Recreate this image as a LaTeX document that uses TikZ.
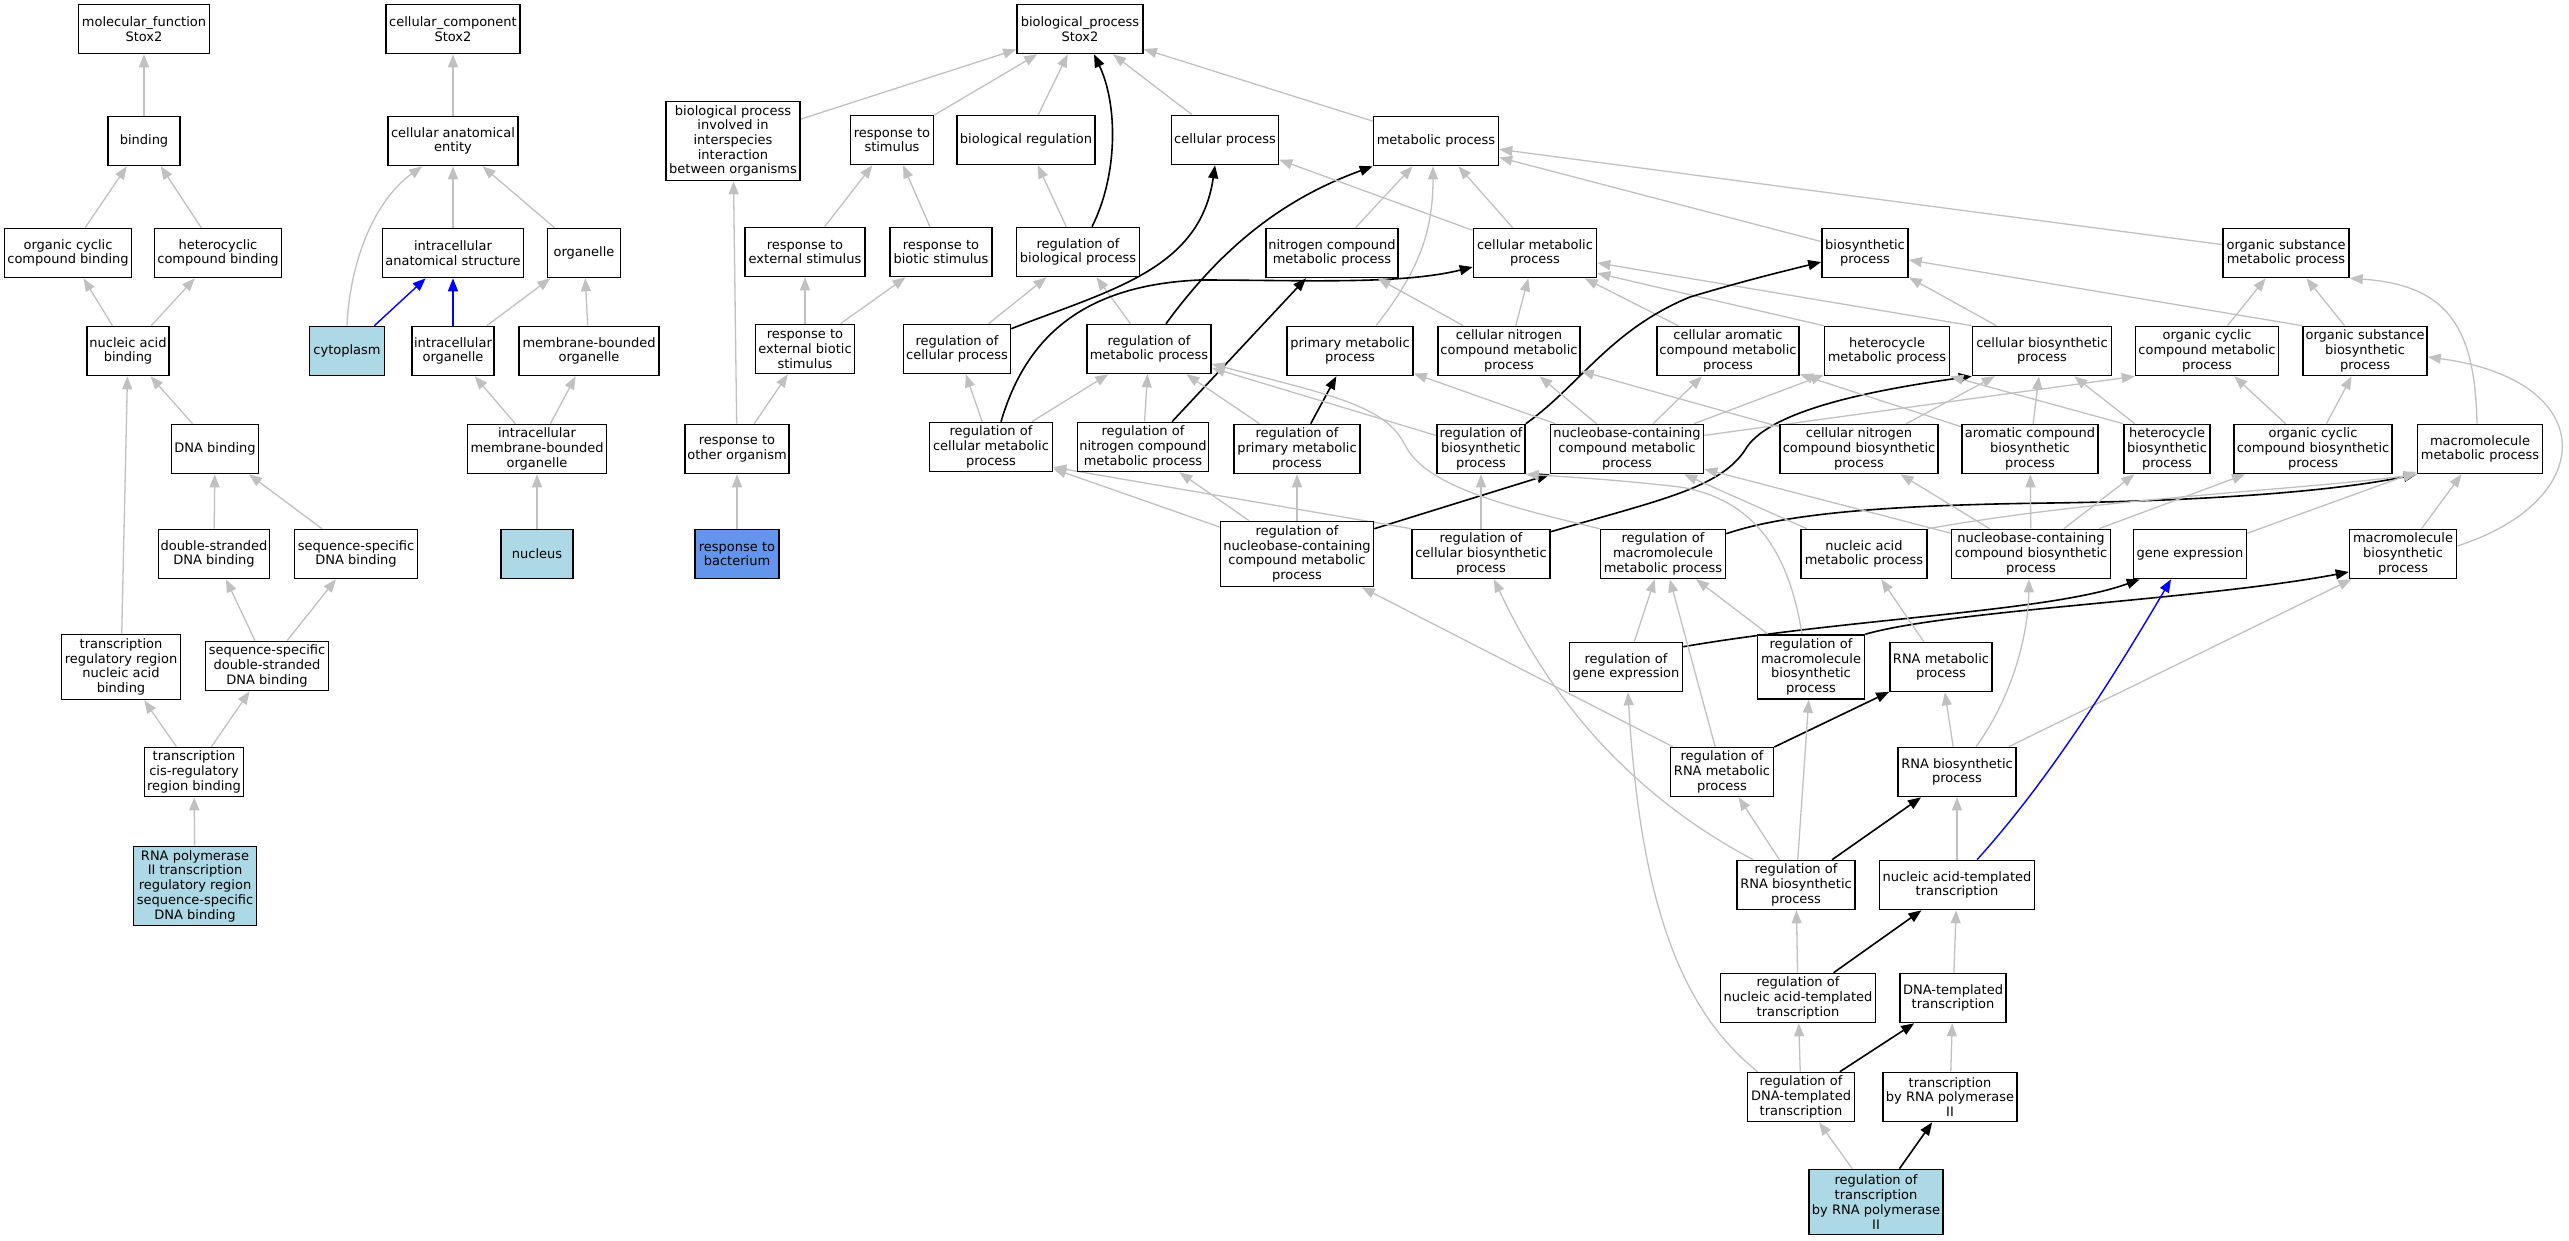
\documentclass[tikz,border=0pt]{standalone}
\usepackage{fontspec}
\setmainfont{DejaVu Sans}
\usetikzlibrary{arrows.meta}
\definecolor{edgegray}{RGB}{192,192,192}
\definecolor{lblue}{RGB}{173,216,230}
\definecolor{cblue}{RGB}{100,149,237}
\pgfdeclarelayer{bg}
\pgfsetlayers{bg,main}
\begin{document}
\begin{tikzpicture}[x=1pt,y=-1pt,
 gobox/.style={draw, line width=1.6pt, fill=white, inner xsep=2pt, inner ysep=1pt, align=center, minimum height=49pt, font=\fontsize{13pt}{14.7pt}\selectfont},
 isa/.style={draw=edgegray, line width=1.3pt, -{Triangle[length=13pt,width=10pt]}},
 regl/.style={draw=black, line width=1.6pt, -{Triangle[length=13pt,width=10pt]}},
 partof/.style={draw=blue, line width=1.4pt, -{Triangle[length=13pt,width=10pt]}}]
\useasboundingbox (0,0) rectangle (2569,1240);
% Row 1
\node[gobox,minimum width=131pt] (mf) at (144,29) {molecular\_function\\Stox2};
\node[gobox,minimum width=134pt] (cc) at (453,29) {cellular\_component\\Stox2};
\node[gobox,minimum width=126pt] (bp) at (1080,29) {biological\_process\\Stox2};
% Row 2
\node[gobox,minimum width=72pt] (bind) at (144,141) {binding};
\node[gobox,minimum width=130pt] (cae) at (453,141) {cellular anatomical\\entity};
\node[gobox,minimum width=134pt,minimum height=79pt] (bpii) at (733,141) {biological process\\involved in\\interspecies\\interaction\\between organisms};
\node[gobox,minimum width=83pt] (rstim) at (892,140) {response to\\stimulus};
\node[gobox,minimum width=138pt] (breg) at (1026,140) {biological regulation};
\node[gobox,minimum width=107pt] (cproc) at (1225,140) {cellular process};
\node[gobox,minimum width=125pt] (mproc) at (1436,141) {metabolic process};
% Row 3
\node[gobox,minimum width=127pt] (occb) at (68,253) {organic cyclic\\compound binding};
\node[gobox,minimum width=127pt] (hcb) at (218,253) {heterocyclic\\compound binding};
\node[gobox,minimum width=141pt] (ias) at (453,253) {intracellular\\anatomical structure};
\node[gobox,minimum width=73pt] (orgl) at (584,253) {organelle};
\node[gobox,minimum width=120pt] (rext) at (805,252) {response to\\external stimulus};
\node[gobox,minimum width=102pt] (rbiot) at (941,252) {response to\\biotic stimulus};
\node[gobox,minimum width=123pt] (rbp) at (1078,252) {regulation of\\biological process};
\node[gobox,minimum width=132pt] (ncmp) at (1332,253) {nitrogen compound\\metabolic process};
\node[gobox,minimum width=123pt] (cmp) at (1535,253) {cellular metabolic\\process};
\node[gobox,minimum width=86pt] (biosyn) at (1865,253) {biosynthetic\\process};
\node[gobox,minimum width=126pt] (osmp) at (2286,253) {organic substance\\metabolic process};
% Row 4
\node[gobox,minimum width=82pt] (nab) at (128,351) {nucleic acid\\binding};
\node[gobox,minimum width=75pt,fill=lblue] (cyto) at (347,351) {cytoplasm};
\node[gobox,minimum width=82pt] (iorg) at (453,351) {intracellular\\organelle};
\node[gobox,minimum width=140pt] (mbo) at (589,351) {membrane-bounded\\organelle};
\node[gobox,minimum width=99pt] (rebs) at (805,349) {response to\\external biotic\\stimulus};
\node[gobox,minimum width=107pt] (rcp) at (957,349) {regulation of\\cellular process};
\node[gobox,minimum width=124pt] (rmp) at (1149,349) {regulation of\\metabolic process};
\node[gobox,minimum width=126pt] (pmp) at (1350,351) {primary metabolic\\process};
\node[gobox,minimum width=142pt] (cncmp) at (1509,351) {cellular nitrogen\\compound metabolic\\process};
\node[gobox,minimum width=142pt] (cacmp) at (1728,351) {cellular aromatic\\compound metabolic\\process};
\node[gobox,minimum width=125pt] (hmp) at (1887,351) {heterocycle\\metabolic process};
\node[gobox,minimum width=139pt] (cbp) at (2042,351) {cellular biosynthetic\\process};
\node[gobox,minimum width=143pt] (occmp) at (2207,351) {organic cyclic\\compound metabolic\\process};
\node[gobox,minimum width=124pt] (osbp) at (2365,351) {organic substance\\biosynthetic\\process};
% Row 5
\node[gobox,minimum width=87pt] (dnab) at (215,449) {DNA binding};
\node[gobox,minimum width=139pt] (imbo) at (537,449) {intracellular\\membrane-bounded\\organelle};
\node[gobox,minimum width=104pt] (rtoo) at (737,449) {response to\\other organism};
\node[gobox,minimum width=123pt] (rcmp) at (991,447) {regulation of\\cellular metabolic\\process};
\node[gobox,minimum width=131pt] (rncmp) at (1143,447) {regulation of\\nitrogen compound\\metabolic process};
\node[gobox,minimum width=126pt] (rpmp) at (1297,449) {regulation of\\primary metabolic\\process};
\node[gobox,minimum width=88pt] (rbsp) at (1481,449) {regulation of\\biosynthetic\\process};
\node[gobox,minimum width=153pt] (nucmet) at (1627,449) {nucleobase-containing\\compound metabolic\\process};
\node[gobox,minimum width=158pt] (cncbp) at (1859,449) {cellular nitrogen\\compound biosynthetic\\process};
\node[gobox,minimum width=136pt] (acbp) at (2030,449) {aromatic compound\\biosynthetic\\process};
\node[gobox,minimum width=86pt] (hbp) at (2167,449) {heterocycle\\biosynthetic\\process};
\node[gobox,minimum width=158pt] (occbp) at (2313,449) {organic cyclic\\compound biosynthetic\\process};
\node[gobox,minimum width=125pt] (mmp) at (2480,449) {macromolecule\\metabolic process};
% Row 6
\node[gobox,minimum width=111pt] (dsdb) at (214,554) {double-stranded\\DNA binding};
\node[gobox,minimum width=123pt] (ssdb) at (356,554) {sequence-specific\\DNA binding};
\node[gobox,minimum width=72pt,fill=lblue] (nucl) at (537,554) {nucleus};
\node[gobox,minimum width=84pt,fill=cblue] (rbact) at (737,554) {response to\\bacterium};
\node[gobox,minimum width=153pt,minimum height=65pt] (rnuc) at (1297,554) {regulation of\\nucleobase-containing\\compound metabolic\\process};
\node[gobox,minimum width=138pt] (rcbp) at (1481,554) {regulation of\\cellular biosynthetic\\process};
\node[gobox,minimum width=125pt] (rmmp) at (1663,554) {regulation of\\macromolecule\\metabolic process};
\node[gobox,minimum width=126pt] (namp) at (1864,554) {nucleic acid\\metabolic process};
\node[gobox,minimum width=159pt] (nucbio) at (2031,554) {nucleobase-containing\\compound biosynthetic\\process};
\node[gobox,minimum width=113pt] (gexp) at (2190,554) {gene expression};
\node[gobox,minimum width=107pt] (mbp) at (2403,554) {macromolecule\\biosynthetic\\process};
% Row 7
\node[gobox,minimum width=119pt,minimum height=65pt] (trrnab) at (121,667) {transcription\\regulatory region\\nucleic acid\\binding};
\node[gobox,minimum width=123pt] (ssdsdb) at (267,666) {sequence-specific\\double-stranded\\DNA binding};
\node[gobox,minimum width=113pt] (rgexp) at (1626,667) {regulation of\\gene expression};
\node[gobox,minimum width=107pt,minimum height=64pt] (rmbp) at (1811,667) {regulation of\\macromolecule\\biosynthetic\\process};
\node[gobox,minimum width=102pt] (rnamet) at (1941,667) {RNA metabolic\\process};
% Row 8
\node[gobox,minimum width=99pt] (tcrb) at (194,772) {transcription\\cis-regulatory\\region binding};
\node[gobox,minimum width=103pt] (rrnamet) at (1722,772) {regulation of\\RNA metabolic\\process};
\node[gobox,minimum width=118pt] (rnabio) at (1957,772) {RNA biosynthetic\\process};
% Row 9
\node[gobox,minimum width=123pt,minimum height=79pt,fill=lblue] (rnapol) at (195,886) {RNA polymerase\\II transcription\\regulatory region\\sequence-specific\\DNA binding};
\node[gobox,minimum width=118pt] (rrnabio) at (1796,885) {regulation of\\RNA biosynthetic\\process};
\node[gobox,minimum width=155pt] (natt) at (1957,885) {nucleic acid-templated\\transcription};
% Row 10
\node[gobox,minimum width=155pt] (rnatt) at (1798,998) {regulation of\\nucleic acid-templated\\transcription};
\node[gobox,minimum width=106pt] (dtt) at (1953,998) {DNA-templated\\transcription};
% Row 11
\node[gobox,minimum width=107pt] (rdtt) at (1801,1097) {regulation of\\DNA-templated\\transcription};
\node[gobox,minimum width=134pt] (trp2) at (1950,1097) {transcription\\by RNA polymerase\\II};
% Row 12
\node[gobox,minimum width=134pt,minimum height=65pt,fill=lblue] (rtrp2) at (1876,1202) {regulation of\\transcription\\by RNA polymerase\\II};

\begin{pgfonlayer}{bg}
% molecular function
\draw[isa] (bind) -- (mf);
\draw[isa] (occb) -- (bind);
\draw[isa] (hcb) -- (bind);
\draw[isa] (nab) -- (occb);
\draw[isa] (nab) -- (hcb);
\draw[isa] (dnab) -- (nab);
\draw[isa] (trrnab) -- (nab);
\draw[isa] (dsdb) -- (dnab);
\draw[isa] (ssdb) -- (dnab);
\draw[isa] (ssdsdb) -- (dsdb);
\draw[isa] (ssdsdb) -- (ssdb);
\draw[isa] (tcrb) -- (trrnab);
\draw[isa] (tcrb) -- (ssdsdb);
\draw[isa] (rnapol) -- (tcrb);
% cellular component
\draw[isa] (cae) -- (cc);
\draw[isa] (ias) -- (cae);
\draw[isa] (orgl) -- (cae);
\draw[isa] (cyto.north) .. controls (350,260) and (375,200) .. ([xshift=35pt]cae.south west);
\draw[partof] (cyto) -- (ias);
\draw[partof] (iorg) -- (ias);
\draw[isa] (iorg) -- (orgl);
\draw[isa] (mbo) -- (orgl);
\draw[isa] (imbo) -- (iorg);
\draw[isa] (imbo) -- (mbo);
\draw[isa] (nucl) -- (imbo);
% biological process
\draw[isa] (bpii) -- (bp);
\draw[isa] (rstim) -- (bp);
\draw[isa] (breg) -- (bp);
\draw[regl] ([xshift=14pt]rbp.north) .. controls (1118,175) and (1118,105) .. ([xshift=14pt]bp.south);
\draw[isa] (cproc) -- (bp);
\draw[isa] (mproc) -- (bp);
\draw[isa] (rext) -- (rstim);
\draw[isa] (rbiot) -- (rstim);
\draw[isa] (rbp) -- (breg);
\draw[isa] (rebs) -- (rext);
\draw[isa] (rebs) -- (rbiot);
\draw[isa] (rtoo) -- (bpii);
\draw[isa] (rtoo) -- (rebs);
\draw[isa] (rbact) -- (rtoo);
\draw[isa] (rcp) -- (rbp);
\draw[isa] (rmp) -- (rbp);
\draw[regl] ([yshift=-5pt]rcp.north east) .. controls (1110,290) and (1200,270) .. ([xshift=-10pt]cproc.south);
\draw[regl] ([xshift=17pt]rmp.north) .. controls (1220,250) and (1280,200) .. (mproc.south west);
\draw[isa] (cmp) -- (cproc);
\draw[isa] (ncmp) -- (mproc);
\draw[isa] ([xshift=26pt]pmp.north) .. controls (1420,270) and (1433,230) .. ([xshift=-3pt]mproc.south);
\draw[isa] (cmp) -- (mproc);
\draw[isa] (biosyn) -- (mproc);
\draw[isa] (osmp) -- (mproc);
\draw[isa] (rcmp) -- (rcp);
\draw[isa] (rcmp) -- (rmp);
\draw[regl] ([xshift=10pt]rcmp.north) .. controls (1025,340) and (1080,285) .. (1200,280) .. controls (1300,280) and (1400,285) .. ([yshift=-14pt]cmp.west);
\draw[isa] (rncmp) -- (rmp);
\draw[regl] ([xshift=29pt]rncmp.north) -- ([xshift=-26pt]ncmp.south);
\draw[isa] (rpmp) -- (rmp);
\draw[regl] (rpmp) -- (pmp);
\draw[isa] (cncmp) -- (ncmp);
\draw[isa] (cncmp) -- (cmp);
\draw[isa] (cacmp) -- (cmp);
\draw[isa] (hmp.north west) -- (cmp.-18);
\draw[isa] (cbp.north west) -- (cmp.-9);
\draw[isa] (cbp) -- (biosyn);
\draw[regl] (rbsp.north east) .. controls (1580,385) and (1610,330) .. (1690,297) .. controls (1740,282) and (1780,272) .. ([yshift=-9pt]biosyn.west);
\draw[isa] (rbsp) -- (rmp);
\draw[isa] (occmp) -- (osmp);
\draw[isa] (osbp) -- (osmp);
\draw[isa] (osbp.north west) -- (biosyn.-9);
\draw[isa] ([xshift=-3pt]mmp.north) .. controls (2475,330) and (2450,285) .. (osmp.south east);
\draw[isa] (rnuc) -- (rcmp);
\draw[isa] (rnuc) -- (rncmp);
\draw[isa] (rnuc) -- (rpmp);
\draw[regl] ([yshift=-8pt]rnuc.north east) -- (nucmet.south west);
\draw[isa] (rcbp) -- (rbsp);
\draw[isa] (rcbp.north west) -- (rcmp.-18);
\draw[regl] ([yshift=-3pt]rcbp.north east) .. controls (1660,500) and (1720,488) .. (1745,450) .. controls (1765,415) and (1850,393) .. (cbp.south west);
\draw[isa] (rmmp.north west) .. controls (1500,505) and (1425,485) .. (1405,445) .. controls (1385,405) and (1330,395) .. ([yshift=-15pt]rmp.east);
\draw[regl] ([yshift=-5pt]rmmp.north east) .. controls (1790,512) and (1900,505) .. (2050,503) .. controls (2200,501) and (2330,492) .. (mmp.south west);
\draw[isa] (nucmet) -- (cncmp);
\draw[isa] (nucmet) -- (cacmp);
\draw[isa] (nucmet) -- (hmp);
\draw[isa] (nucmet.10) -- (occmp.south west);
\draw[isa] (nucmet) -- (pmp);
\draw[isa] (cncbp) -- (cncmp);
\draw[isa] (cncbp) -- (cbp);
\draw[isa] (acbp) -- (cacmp);
\draw[isa] (acbp) -- (cbp);
\draw[isa] (hbp.north west) -- (hmp.south east);
\draw[isa] (hbp) -- (cbp);
\draw[isa] (occbp) -- (occmp);
\draw[isa] (occbp) -- (osbp);
\draw[isa] (mbp) -- (mmp);
\draw[isa] ([yshift=8pt]mbp.east) .. controls (2600,500) and (2600,380) .. ([yshift=-6pt]osbp.east);
\draw[isa] (gexp) -- (mmp);
\draw[isa] (namp.north east) .. controls (2100,498) and (2300,490) .. (mmp.south west);
\draw[isa] (namp) -- (nucmet);
\draw[isa] (nucbio) -- (nucmet);
\draw[isa] (nucbio) -- (cncbp);
\draw[isa] (nucbio) -- (acbp);
\draw[isa] (nucbio) -- (hbp);
\draw[isa] (nucbio) -- (occbp);
\draw[isa] (rgexp) -- (rmmp);
\draw[regl] ([yshift=-5pt]rgexp.north east) .. controls (1850,618) and (2050,612) .. ([xshift=7pt]gexp.south west);
\draw[isa] (rmbp) -- (rmmp);
\draw[isa] ([xshift=-9pt]rmbp.north) .. controls (1790,560) and (1760,500) .. (1680,487) .. controls (1620,480) and (1570,477) .. (rbsp.south east);
\draw[regl] (rmbp.north east) .. controls (1950,610) and (2200,600) .. ([yshift=-18pt]mbp.west);
\draw[isa] (rnamet) -- (namp);
\draw[isa] (rrnamet) -- (rnuc);
\draw[isa] (rrnamet) -- (rmmp);
\draw[regl] (rrnamet) -- (rnamet);
\draw[isa] (rnabio) -- (rnamet);
\draw[isa] ([xshift=19pt]rnabio.north) .. controls (2010,700) and (2028,640) .. ([xshift=-2pt]nucbio.south);
\draw[isa] (rnabio) -- (mbp);
\draw[isa] (rrnabio) -- (rrnamet);
\draw[isa] (rrnabio) -- (rmbp);
\draw[isa] ([xshift=17pt]rrnabio.north west) .. controls (1650,805) and (1560,720) .. ([xshift=13pt]rcbp.south);
\draw[regl] (rrnabio) -- (rnabio);
\draw[isa] (natt) -- (rnabio);
\draw[partof] ([xshift=20pt]natt.north) .. controls (2040,790) and (2100,700) .. ([xshift=-19pt]gexp.south);
\draw[isa] (rnatt) -- (rrnabio);
\draw[regl] (rnatt) -- (natt);
\draw[isa] (dtt) -- (natt);
\draw[isa] (rdtt) -- (rnatt);
\draw[isa] ([xshift=11pt]rdtt.north west) .. controls (1680,1010) and (1640,900) .. ([xshift=2pt]rgexp.south);
\draw[regl] (rdtt) -- (dtt);
\draw[isa] (trp2) -- (dtt);
\draw[isa] (rtrp2) -- (rdtt);
\draw[regl] (rtrp2) -- (trp2);
\end{pgfonlayer}
\end{tikzpicture}
\end{document}
